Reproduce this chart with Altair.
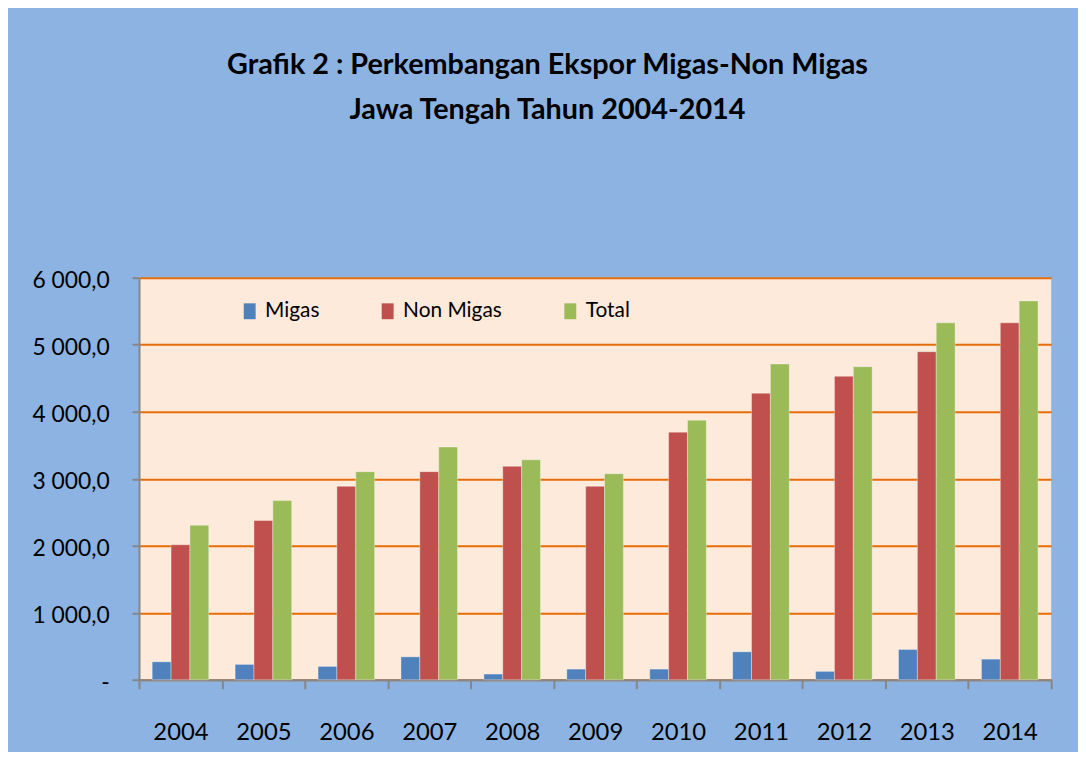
import altair as alt
import pandas as pd

years = ["2004", "2005", "2006", "2007", "2008", "2009", "2010", "2011", "2012", "2013", "2014"]
series_names = ["Migas", "Non Migas", "Total"]
migas = [268, 229, 199, 342, 85, 159, 159, 417, 125, 452, 308]
non_migas = [2015, 2377, 2887, 3106, 3185, 2887, 3696, 4277, 4530, 4896, 5327]
total = [2307, 2674, 3106, 3473, 3284, 3076, 3875, 4713, 4673, 5327, 5655]
colors = ["#4F81BD", "#C0504D", "#9BBB59"]

rows = []
for name, vals in zip(series_names, [migas, non_migas, total]):
    for y, v in zip(years, vals):
        rows.append({"Tahun": y, "Seri": name, "Nilai": v})
df = pd.DataFrame(rows)

FONT = "Lato"

bars = alt.Chart(df).mark_bar(stroke="white", strokeOpacity=0.35, strokeWidth=1).encode(
    x=alt.X("Tahun:N", sort=years, title=None,
            scale=alt.Scale(paddingInner=0, paddingOuter=0),
            axis=alt.Axis(labelAngle=0, labelFontSize=24, labelFont=FONT, labelColor="black",
                          tickBand="extent", tickSize=9, tickColor="#868686", tickWidth=2,
                          domainColor="#868686", domainWidth=2, labelPadding=32, grid=False)),
    xOffset=alt.XOffset("Seri:N", sort=series_names,
                        scale=alt.Scale(paddingInner=0, paddingOuter=0.698)),
    y=alt.Y("Nilai:Q", title=None,
            scale=alt.Scale(domain=[0, 6000], nice=False),
            axis=alt.Axis(values=[0, 1000, 2000, 3000, 4000, 5000, 6000],
                          labelExpr="datum.value == 0 ? '-' : replace(replace(format(datum.value, ',.1f'), ',', ' '), '.', ',')",
                          labelFontSize=23, labelFont=FONT, labelColor="black",
                          tickSize=7, tickColor="#868686", tickWidth=2,
                          domainColor="#868686", domainWidth=2, labelPadding=23, labelOffset=3,
                          grid=True, gridColor="#E46C0A", gridWidth=2)),
    color=alt.Color("Seri:N", sort=series_names,
                    scale=alt.Scale(domain=series_names, range=colors),
                    legend=alt.Legend(title=None, orient="none", legendX=101, legendY=23,
                                      direction="horizontal", labelFont=FONT, labelFontSize=21,
                                      labelColor="black", symbolType="M-0.75,-1H0.75V1H-0.75Z",
                                      symbolSize=256, symbolStrokeWidth=0, labelOffset=5,
                                      columnPadding=58, padding=0, labelLimit=300)),
)

chart = bars.properties(
    width=919,
    height=405,
    title=alt.TitleParams(
        text=["Grafik 2 :  Perkembangan Ekspor Migas-Non Migas", "Jawa Tengah Tahun 2004-2014"],
        font=FONT, fontSize=29, fontWeight="bold", color="black",
        anchor="middle", dx=-48, offset=146, lineHeight=45),
    autosize=alt.AutoSizeParams(type="none"),
    padding={"left": 132, "top": 269, "right": 27, "bottom": 70},
).configure(background="#8DB3E2").configure_view(fill="#FDEADA", stroke=None)

chart.save("out.html", embed_options={"renderer": "svg", "actions": False})
